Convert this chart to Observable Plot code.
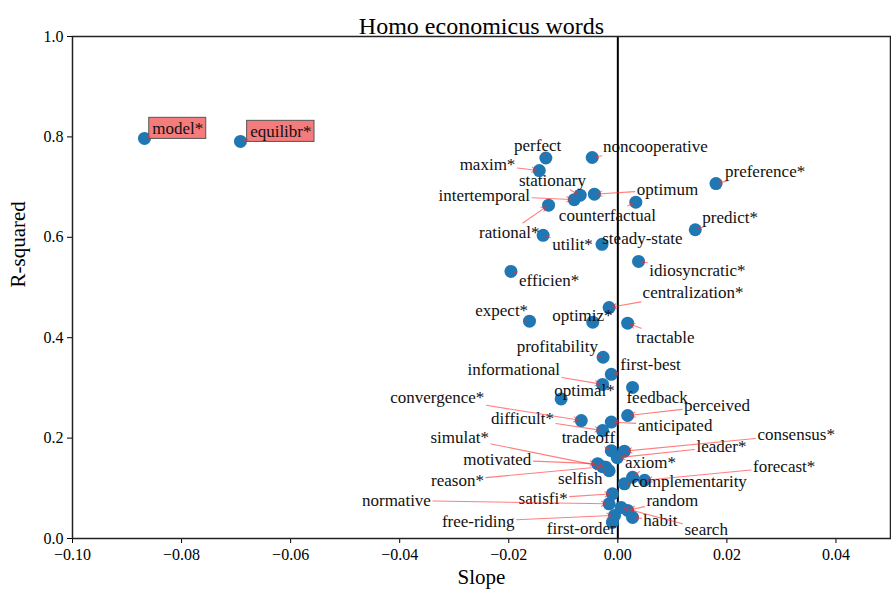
<!DOCTYPE html>
<html>
<head>
<meta charset="utf-8">
<script src="https://cdn.jsdelivr.net/npm/d3@7"></script>
<script src="https://cdn.jsdelivr.net/npm/@observablehq/plot@0.6"></script>
<style>
  html, body { margin: 0; padding: 0; background: #fff; }
  #chart svg { display: block; }
</style>
</head>
<body>
<div id="chart"></div>
<script>
// Words, their regression slope and R-squared
const words = [
  "model*", "equilibr*", "perfect", "noncooperative", "maxim*", "stationary",
  "optimum", "preference*", "intertemporal", "counterfactual", "predict*", "rational*",
  "utilit*", "steady-state", "idiosyncratic*", "efficien*", "centralization*", "expect*",
  "optimiz*", "tractable", "profitability", "first-best", "informational", "optimal*",
  "feedback", "convergence*", "perceived", "difficult*", "anticipated", "tradeoff",
  "consensus*", "leader*", "simulat*", "axiom*", "forecast*", "motivated",
  "selfish", "complementarity", "reason*", "random", "normative", "satisfi*",
  "free-riding", "habit", "first-order", "search"
];
const slope = [
  -0.0868, -0.0692, -0.0132, -0.0047, -0.0144, -0.0069,
  -0.0043, 0.0180, -0.0080, 0.0033, 0.0142, -0.0127,
  -0.0137, -0.0029, 0.0038, -0.0196, -0.0016, -0.0162,
  -0.0046, 0.0018, -0.0027, -0.0012, -0.0028, -0.0104,
  0.0027, -0.0067, 0.0018, -0.0028, -0.0012, -0.0012,
  0.0012, -0.0001, -0.0022, 0.0027, 0.0049, -0.0037,
  -0.0016, 0.0012, -0.0028, 0.0018, -0.0016, -0.0010,
  -0.0006, 0.0027, -0.0010, 0.0006
];
const rSquared = [
  0.797, 0.791, 0.758, 0.759, 0.733, 0.684,
  0.686, 0.707, 0.675, 0.670, 0.615, 0.664,
  0.604, 0.586, 0.552, 0.532, 0.460, 0.433,
  0.431, 0.429, 0.361, 0.327, 0.307, 0.278,
  0.301, 0.235, 0.245, 0.215, 0.232, 0.175,
  0.174, 0.161, 0.142, 0.122, 0.116, 0.149,
  0.135, 0.109, 0.143, 0.056, 0.069, 0.089,
  0.046, 0.042, 0.032, 0.062
];
// Where each word's label sits (slope, R-squared of the label centre)
const labelSlope = [
  -0.0807, -0.0618, -0.0147, 0.0069, -0.0239, -0.0120,
  0.0091, 0.0270, -0.0245, -0.0019, 0.0206, -0.0199,
  -0.0083, 0.0045, 0.0146, -0.0126, 0.0138, -0.0213,
  -0.0065, 0.0087, -0.0111, 0.0060, -0.0191, -0.0061,
  0.0072, -0.0331, 0.0182, -0.0175, 0.0105, -0.0054,
  0.0327, 0.0190, -0.0290, 0.0060, 0.0305, -0.0221,
  -0.0069, 0.0131, -0.0294, 0.0100, -0.0406, -0.0137,
  -0.0256, 0.0078, -0.0067, 0.0162
];
const labelRSquared = [
  0.817, 0.811, 0.783, 0.781, 0.745, 0.713,
  0.695, 0.731, 0.683, 0.644, 0.639, 0.610,
  0.586, 0.598, 0.534, 0.514, 0.490, 0.454,
  0.444, 0.400, 0.382, 0.347, 0.337, 0.295,
  0.281, 0.281, 0.265, 0.239, 0.225, 0.201,
  0.207, 0.183, 0.201, 0.152, 0.143, 0.157,
  0.120, 0.114, 0.116, 0.076, 0.076, 0.080,
  0.034, 0.036, 0.020, 0.017
];
// Words drawn with a highlighted box
const highlighted = ["model*", "equilibr*"];

const xTicks = [-0.10, -0.08, -0.06, -0.04, -0.02, 0.00, 0.02, 0.04];
const yTicks = [0.0, 0.2, 0.4, 0.6, 0.8, 1.0];

const W = 891, H = 598;
const M = {top: 36, right: 1, bottom: 60, left: 72};
const xDomain = [-0.10, 0.05], yDomain = [0, 1];
const FONT = "'Liberation Serif', 'Times New Roman', Times, serif";
const LABEL_SIZE = 17;

// pixel-per-unit factors, used to turn label extents into data units
const kx = (W - M.left - M.right) / (xDomain[1] - xDomain[0]);
const ky = (H - M.top - M.bottom) / (yDomain[1] - yDomain[0]);

const ctx = document.createElement("canvas").getContext("2d");
ctx.font = `${LABEL_SIZE}px ${FONT}`;

const rows = words.map((w, i) => {
  const tw = ctx.measureText(w).width;
  const hw = tw / 2 + 2, hh = LABEL_SIZE * 0.55;
  const lx = labelSlope[i], ly = labelRSquared[i];
  // vector (in px) from label centre to point
  const dxp = (slope[i] - lx) * kx, dyp = (rSquared[i] - ly) * ky;
  const t = Math.min(hw / Math.max(Math.abs(dxp), 1e-9), hh / Math.max(Math.abs(dyp), 1e-9));
  return {
    word: w, slope: slope[i], r2: rSquared[i], lx, ly,
    sx: lx + (dxp * t) / kx, sy: ly + (dyp * t) / ky,
    arrow: t < 1,
    boxed: highlighted.includes(w),
    bx1: lx - (tw / 2 + 3) / kx, bx2: lx + (tw / 2 + 3) / kx,
    by1: ly - (LABEL_SIZE * 0.62) / ky, by2: ly + (LABEL_SIZE * 0.62) / ky
  };
});

const chart = Plot.plot({
  width: W, height: H,
  marginTop: M.top, marginRight: M.right, marginBottom: M.bottom, marginLeft: M.left,
  style: {fontFamily: FONT, fontSize: "16px", background: "#fff", color: "#000"},
  x: {domain: xDomain},
  y: {domain: yDomain},
  marks: [
    Plot.axisX({ticks: xTicks, tickSize: 5, tickPadding: 5, label: null, fontSize: 16}),
    Plot.axisY({ticks: yTicks, tickSize: 5, tickPadding: 4, label: null, fontSize: 16,
      tickFormat: d => d.toFixed(1)}),
    Plot.ruleX([0], {stroke: "#000", strokeWidth: 2}),
    Plot.dot(rows, {x: "slope", y: "r2", r: 6.5, fill: "#1f77b4", stroke: "none"}),
    Plot.rect(rows.filter(d => d.boxed), {x1: "bx1", x2: "bx2", y1: "by1", y2: "by2",
      fill: "#f47c7c", stroke: "#555", strokeWidth: 1}),
    Plot.text(rows, {x: "lx", y: "ly", text: "word", fontSize: LABEL_SIZE, fill: "#111"}),
    Plot.arrow(rows.filter(d => d.arrow), {x1: "sx", y1: "sy", x2: "slope", y2: "r2",
      stroke: "#ff2a2a", strokeOpacity: 0.6, strokeWidth: 1.1, headLength: 7, insetEnd: 3}),
    Plot.frame({stroke: "#222", strokeWidth: 1.5}),
    Plot.text(["Homo economicus words"], {frameAnchor: "top", dy: -20, fontSize: 24}),
    Plot.text(["Slope"], {frameAnchor: "bottom", dy: 45, fontSize: 21}),
    Plot.text(["R-squared"], {frameAnchor: "left", dx: -54, rotate: -90, fontSize: 21})
  ]
});
document.getElementById("chart").appendChild(chart);
</script>
</body>
</html>
